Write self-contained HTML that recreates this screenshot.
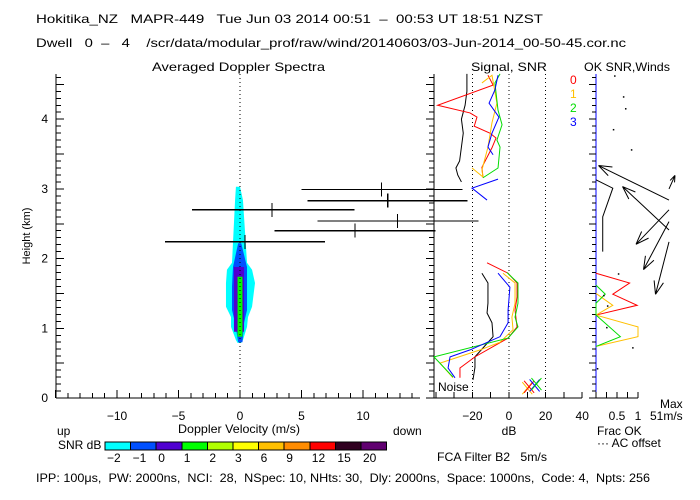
<!DOCTYPE html>
<html><head><meta charset="utf-8"><style>
body{margin:0;background:#fff}
svg{display:block;font-family:"Liberation Sans",sans-serif;font-size:12px}
text{fill:#000;white-space:pre}
</style></head><body>
<svg id="c" width="700" height="500" viewBox="0 0 700 500" xml:space="preserve">
<text x="36" y="23" textLength="507" lengthAdjust="spacingAndGlyphs">Hokitika_NZ   MAPR-449   Tue Jun 03 2014 00:51  –  00:53 UT 18:51 NZST</text>
<text x="36" y="47" textLength="590" lengthAdjust="spacingAndGlyphs">Dwell   0  –   4    /scr/data/modular_prof/raw/wind/20140603/03-Jun-2014_00-50-45.cor.nc</text>
<text x="152" y="71" textLength="173" lengthAdjust="spacingAndGlyphs">Averaged Doppler Spectra</text>
<text x="471" y="71" textLength="76" lengthAdjust="spacingAndGlyphs">Signal, SNR</text>
<text x="584" y="71" textLength="86" lengthAdjust="spacingAndGlyphs">OK SNR,Winds</text>
<text x="30" y="236" transform="rotate(-90 30 236)" text-anchor="middle" font-size="11">Height (km)</text>
<text x="178" y="433" textLength="122" lengthAdjust="spacingAndGlyphs">Doppler Velocity (m/s)</text>
<text x="57" y="435">up</text>
<text x="393" y="435">down</text>
<text x="58" y="449">SNR dB</text>
<text x="509" y="435" text-anchor="middle">dB</text>
<text x="597" y="435">Frac OK</text>
<text x="597" y="447">··· AC offset</text>
<text x="437" y="461" textLength="110" lengthAdjust="spacingAndGlyphs">FCA Filter B2   5m/s</text>
<text x="660" y="408">Max</text>
<text x="650" y="420">51m/s</text>
<text x="438" y="391">Noise</text>
<text x="36" y="482" textLength="614" lengthAdjust="spacingAndGlyphs">IPP: 100μs,  PW: 2000ns,  NCI:  28,  NSpec: 10, NHts: 30,  Dly: 2000ns,  Space: 1000ns,  Code: 4,  Npts: 256</text>
<text x="570" y="84" style="fill:#ff0000">0</text>
<text x="570" y="98" style="fill:#ffc000">1</text>
<text x="570" y="112" style="fill:#00dd00">2</text>
<text x="570" y="126" style="fill:#0000ff">3</text>
<g id="g"></g>
</svg>
<script>
// ---- data ----
const spectraCyanH=[3.03,2.84,1.94,1.84,1.65,1.31,1.16,1.02,0.83,0.79];
const spectraCyanL=[-0.33,-0.4,-0.65,-1.06,-1.14,-1.14,-0.73,-0.73,-0.33,-0.2];
const spectraCyanR=[0.0,0.24,0.57,0.98,1.22,0.98,0.65,0.57,0.24,0.1];
const spectraBlueH=[2.22,1.88,1.6,1.26,1.08,0.8];
const spectraBlueL=[-0.15,-0.57,-0.65,-0.65,-0.4,-0.15];
const spectraBlueR=[0.1,0.57,0.57,0.57,0.33,0.2];
const spectraPurpleH=[1.88,0.95];
const spectraPurpleL=[-0.49,-0.49];
const spectraPurpleR=[0.33,0.33];
const spectraGreenH=[1.74,0.88];
const spectraGreenL=[-0.2,-0.2];
const spectraGreenR=[0.2,0.2];
const errHeights=[2.99,2.83,2.70,2.54,2.40,2.24];
const errCenter=[11.5,12.0,2.6,12.8,9.35,0.4];
const errLow=[5.0,5.5,-3.9,6.3,2.8,-6.1];
const errHigh=[18.1,18.5,9.3,19.4,15.9,6.9];
const noiseUpH=[4.65,4.4,4.2,4.0,3.8,3.6,3.4,3.3,3.2,3.1];
const noiseUpDb=[-23,-23,-24,-26,-25,-26,-27,-29,-28,-26];
const noiseLoH=[1.79,1.65,1.36,1.22,1.08,0.88,0.59,0.44,0.26];
const noiseLoDb=[-14.8,-11.5,-11.5,-12,-9.3,-8.7,-18.6,-18.6,-19.7];
const snr0UpH=[4.63,4.49,4.20,4.09,4.03,3.90,3.80,3.73,3.59,3.31,3.16];
const snr0UpDb=[-11.5,-8.7,-39,-21.3,-17.5,-19,-10.4,-7.1,-9.3,-14.8,-14.2];
const snr1UpH=[4.52,4.63,4.23,3.95,3.60,3.27,3.17,3.30];
const snr1UpDb=[-14.8,-9.3,-6.6,-9.3,-11.5,-14.8,-14.2,-20.2];
const snr2UpH=[4.65,4.52,4.13,3.92,3.70,3.60,3.30,3.16];
const snr2UpDb=[-4.9,-7.7,-6,-3.8,-6.6,-4.9,-6,-14.2];
const snr3UpH=[4.63,4.42,4.23,4.03,3.80,3.60,3.49];
const snr3UpDb=[-6,-7.7,-10.9,-5.5,-9.3,-11.5,-8.7];
const snr3MidH=[3.14,3.01,2.84];
const snr3MidDb=[-6,-20.2,-12];
const snr0LoH=[1.94,1.79,1.65,1.45,1.26,1.02,0.86,0.59,0.43,0.29];
const snr0LoDb=[-12,-0.5,4.4,4.4,3.3,4.4,-0.5,-18.6,-26.8,-26.8];
const snr1LoH=[1.79,1.65,1.36,1.16,0.98,0.80,0.69,0.50,0.29];
const snr1LoDb=[-3.3,3.3,3.3,1.6,2.2,-4.9,-15.8,-37.7,-30.6];
const snr2LoH=[1.80,1.65,1.36,1.16,1.02,0.86,0.59,0.30];
const snr2LoDb=[-1.1,4.9,4.9,3.3,4.9,-0.5,-41,-30.6];
const snr3LoH=[1.79,1.59,1.26,1.08,0.88,0.69,0.59,0.43,0.29];
const snr3LoDb=[-6,0.5,-0.5,-0.5,-4.9,-21.3,-32.2,-33.3,-29.5];
const acMarkerDb=[10,11,14,15];
const acMarkerH=[0.14,0.16,0.18,0.20];
const fracRedH=[1.79,1.65,1.49,1.33,1.19];
const fracRed=[0,0.8,0.4,0.98,0];
const fracOrangeH=[1.50,1.33,1.19,1.02,0.88,0.74];
const fracOrange=[0,0.4,0,1.0,1.0,0];
const fracGreenH=[1.62,1.49,1.36,1.19,0.88,0.74];
const fracGreen=[0,0.22,0,0,0.58,0];
const fracWindH=[3.13,3.01,2.60,2.10];
const fracWind=[0,0.4,0.16,0.16];
const windH=[2.84,2.41,2.70,2.53,2.24,3.0];
const windU=[-47,-31,-22,-17,-9,4];
const windV=[23,29,-23,-32,-35,9];
const dotsH=[4.63,4.33,4.16,3.86,3.57,1.79,1.48,1.33,1.02,0.73,0.43];
const dotsF=[0.43,0.64,0.69,0.40,0.83,0.52,0.17,0.26,0.24,0.86,0.02];
const cbLabels=["-2","-1","0","1","2","3","6","9","12","15","20"];
const cbColors=["#00ffff","#0050ff","#5000d0","#00ff00","#b0ff00","#ffff00","#ffc000","#ff8c00","#ff0000","#300020","#600070"];
const velTicks=[-10,-5,0,5,10];
const dbTicks=[-20,0,20,40];
const fracTicks=[0.5,1];
const hTicks=[0,1,2,3,4];
// ---- axes ----
const yH=h=>398-h*69.7;
const xV=v=>240+v*12.3;
const xDb=d=>509+d*1.83;
const xF=f=>596+f*42;
const NS="http://www.w3.org/2000/svg";
const G=document.getElementById('g');
function mk(t,a){const e=document.createElementNS(NS,t);for(const k in a)e.setAttribute(k,a[k]);G.appendChild(e);return e;}
function ln(x1,y1,x2,y2,c,extra){return mk('line',Object.assign({x1,y1,x2,y2,stroke:c||'#000','stroke-width':1,'shape-rendering':'crispEdges'},extra||{}));}
function txt(x,y,s,anchor){const e=mk('text',{x,y,'text-anchor':anchor||'middle'});e.textContent=s;return e;}
function layer(H,L,R,col,name){
  const pts=[];for(let i=0;i<H.length;i++)pts.push(xV(L[i])+','+yH(H[i]));
  for(let i=H.length-1;i>=0;i--)pts.push(xV(R[i])+','+yH(H[i]));
  const p=mk('polygon',{points:pts.join(' '),fill:col});
  
  
}
layer(spectraCyanH,spectraCyanL,spectraCyanR,'#00ffff','spectra-cyan-region');
layer(spectraBlueH,spectraBlueL,spectraBlueR,'#0050ff','spectra-blue-region');
layer(spectraPurpleH,spectraPurpleL,spectraPurpleR,'#5000d0','spectra-purple-region');
layer(spectraGreenH,spectraGreenL,spectraGreenR,'#00ff00','spectra-green-region');
let zl=ln(240,74,240,398,'#000',{'stroke-dasharray':'1,3'});

for(const d of [-20,0,20]){const l=ln(xDb(d),74,xDb(d),398,'#000',{'stroke-dasharray':'1,3'});
  }
let a=ln(56,74,56,398);
a=ln(56,398,420,398);
for(let i=0;i<=46;i++){const y=yH(i/10);ln(56,y,i%5==0?64:61,y);}
for(const h of hTicks){const t=txt(48,yH(h)+4,String(h),'end');}
for(let v=-15;v<=14;v++){ln(xV(v),398,xV(v),v%5==0?390:393);}
for(const v of velTicks){const t=txt(xV(v),420,v==0?'0':String(v).replace('-','−'));}
ln(434,74,434,398);ln(434,398,582,398);
for(let i=0;i<=46;i++){const y=yH(i/10);ln(434,y,i%5==0?426:429,y);}
for(let d=-40;d<=40;d+=10){ln(xDb(d),398,xDb(d),392);}
for(const d of dbTicks){const t=txt(xDb(d),420,String(d).replace('-','−'));}
a=ln(596,74,596,398,'#0000ff');
ln(596,398,638,398);
for(let i=0;i<=46;i++){const y=yH(i/10);ln(596,y,i%5==0?589:592,y);}
for(let f=0;f<=1.001;f+=0.25){ln(xF(f),398,xF(f),392);}
for(const f of fracTicks){const t=txt(xF(f),420,String(f));}
for(let i=0;i<errHeights.length;i++){
  const y=yH(errHeights[i]);
  const b=ln(xV(errLow[i]),y,xV(errHigh[i]),y,'#000',{'stroke-width':1.3});
  
  
  ln(xV(errCenter[i]),y-7,xV(errCenter[i]),y+7,'#000',{'stroke-width':1.3});
}
function poly(H,X,fx,col,name){
  const p=mk('polyline',{points:H.map((h,i)=>fx(X[i])+','+yH(h)).join(' '),fill:'none',stroke:col,'stroke-width':1});
  
  
}
poly(noiseUpH,noiseUpDb,xDb,'#000','noise-line-upper');
poly(noiseLoH,noiseLoDb,xDb,'#000','noise-line-lower');
poly(snr0UpH,snr0UpDb,xDb,'#ff0000','snr-beam0-upper');
poly(snr1UpH,snr1UpDb,xDb,'#ffc000','snr-beam1-upper');
poly(snr2UpH,snr2UpDb,xDb,'#00dd00','snr-beam2-upper');
poly(snr3UpH,snr3UpDb,xDb,'#0000ff','snr-beam3-upper');
poly(snr3MidH,snr3MidDb,xDb,'#0000ff','snr-beam3-mid');
poly(snr0LoH,snr0LoDb,xDb,'#ff0000','snr-beam0-lower');
poly(snr1LoH,snr1LoDb,xDb,'#ffc000','snr-beam1-lower');
poly(snr2LoH,snr2LoDb,xDb,'#00dd00','snr-beam2-lower');
poly(snr3LoH,snr3LoDb,xDb,'#0000ff','snr-beam3-lower');
const mcol=['#ffc000','#ff0000','#0000ff','#00dd00'];
for(let i=0;i<acMarkerDb.length;i++){
  const x=xDb(acMarkerDb[i]),y=yH(acMarkerH[i]);
  const m=mk('path',{d:`M${x-5},${y-6}L${x+5},${y+6}M${x-5},${y+6}L${x+5},${y-6}`,stroke:mcol[i],fill:'none'});
  
  
}
poly(fracRedH,fracRed,xF,'#ff0000','frac-ok-beam0');
poly(fracOrangeH,fracOrange,xF,'#ffc000','frac-ok-beam1');
poly(fracGreenH,fracGreen,xF,'#00dd00','frac-ok-beam2');
poly(fracWindH,fracWind,xF,'#000','frac-ok-wind');
for(let i=0;i<dotsH.length;i++){
  const d=mk('rect',{x:xF(dotsF[i]),y:yH(dotsH[i]),width:1.5,height:1.5,fill:'#000'});
  
}
const wx=669,ws=1.5;
for(let i=0;i<windH.length;i++){
  const x0=wx,y0=yH(windH[i]),x1=x0+windU[i]*ws,y1=y0-windV[i]*ws;
  const ang=Math.atan2(y1-y0,x1-x0),hl=Math.hypot(x1-x0,y1-y0)>30?14:7;
  const a1=ang+Math.PI-0.35,a2=ang+Math.PI+0.35;
  const p=mk('path',{d:`M${x0},${y0}L${x1},${y1}M${x1},${y1}L${x1+hl*Math.cos(a1)},${y1+hl*Math.sin(a1)}M${x1},${y1}L${x1+hl*Math.cos(a2)},${y1+hl*Math.sin(a2)}`,stroke:'#000',fill:'none'});
  
  
}
const cbx=105,cbw=25.6;
for(let i=0;i<cbColors.length;i++){
  const r=mk('rect',{x:cbx+i*cbw,y:442,width:cbw,height:8,fill:cbColors[i],stroke:'#000','stroke-width':1,'shape-rendering':'crispEdges'});
  
  
  const t=txt(cbx+i*cbw+2,462,cbLabels[i].replace('-','−'),'start');
  
}
</script>
</body></html>
